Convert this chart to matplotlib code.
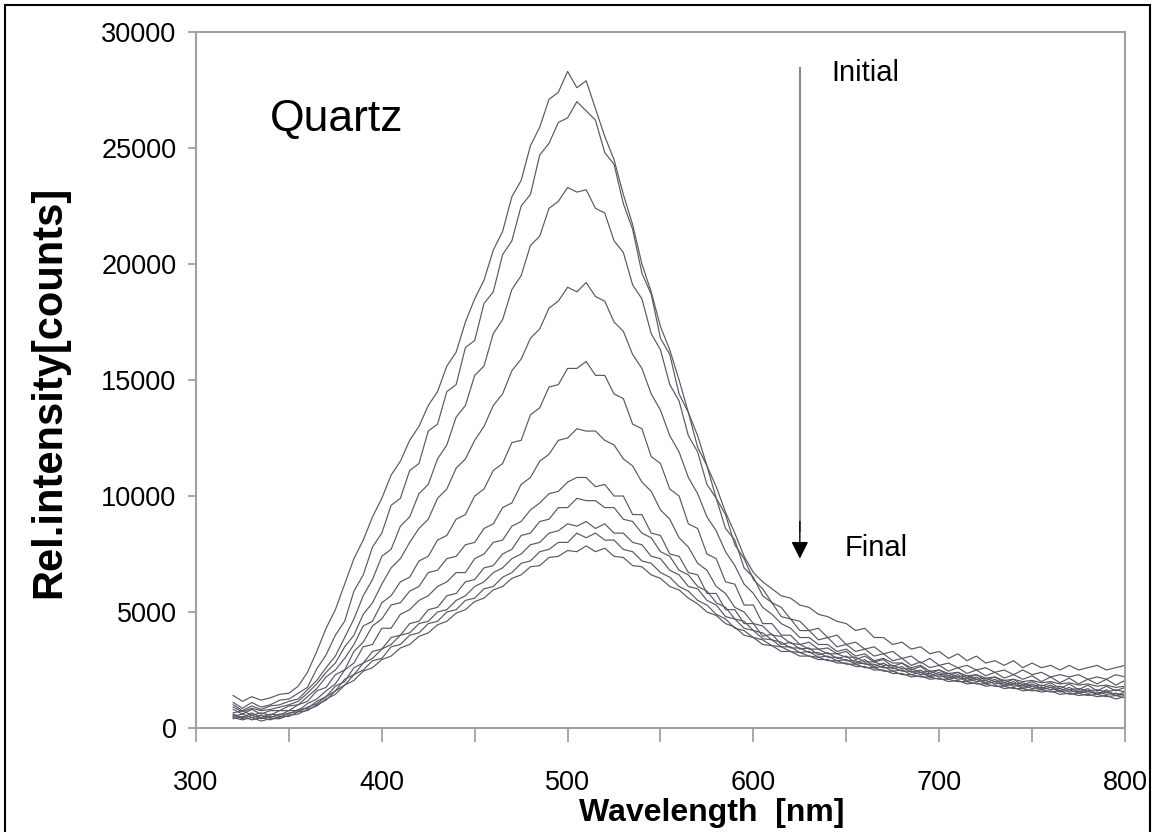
import numpy as np
import matplotlib
matplotlib.use("Agg")
import matplotlib.pyplot as plt
from matplotlib.patches import Rectangle
from matplotlib.ticker import MultipleLocator

plt.rcParams['font.family'] = ['Liberation Sans', 'DejaVu Sans']

# wavelength grid of the spectra [nm], 5 nm steps from 320 to 800
wavelength = np.arange(320, 801, 5)

# spectra, from the initial (top) to the final (bottom) one
# each row of ten values: 320-365, 370-415, 420-465, ... , 770-800 nm
spec_01 = [1400, 1150, 1350, 1200, 1300, 1450, 1500, 1800, 2400, 3300,
           4300, 5100, 6200, 7300, 8100, 9100, 9900, 10900, 11500, 12400,
           13000, 13900, 14500, 15600, 16200, 17500, 18500, 19300, 20600, 21400,
           22900, 23600, 25100, 25900, 27100, 27400, 28300, 27600, 27900, 26700,
           25500, 24500, 23000, 21700, 20000, 18800, 17300, 16300, 15000, 13600,
           12600, 11300, 10400, 9300, 8400, 7400, 6700, 6300, 6000, 5700,
           5600, 5300, 5200, 4900, 4800, 4600, 4500, 4200, 4300, 3900,
           3900, 3600, 3700, 3400, 3500, 3200, 3300, 3000, 3200, 2900,
           3100, 2800, 2900, 2700, 2900, 2600, 2800, 2600, 2700, 2500,
           2700, 2500, 2600, 2700, 2500, 2600, 2700]
spec_02 = [1100, 850, 1100, 900, 1000, 1200, 1250, 1500, 1750, 2550,
           3150, 4000, 4600, 5900, 6600, 7800, 8400, 9600, 9900, 11100,
           11400, 12800, 13100, 14500, 14800, 16400, 16700, 18300, 18800, 20400,
           21000, 22500, 23000, 24700, 25200, 26100, 26300, 27000, 26600, 26200,
           24800, 24300, 22600, 21500, 19600, 18700, 16800, 16100, 14400, 13600,
           12100, 11300, 9900, 9200, 7900, 7300, 6400, 6000, 5400, 5200,
           4700, 4600, 4200, 4300, 3900, 4000, 3600, 3700, 3400, 3500,
           3200, 3300, 3000, 3100, 2800, 3000, 2700, 2800, 2600, 2700,
           2500, 2600, 2400, 2500, 2300, 2500, 2300, 2400, 2200, 2300,
           2200, 2300, 2100, 2200, 2100, 2300, 2200]
spec_03 = [1000, 750, 950, 800, 950, 1000, 1150, 1250, 1650, 2050,
           2600, 3100, 3900, 4700, 5700, 6400, 7400, 7700, 8700, 9100,
           10100, 10500, 11600, 12200, 13400, 13900, 15200, 15600, 17000, 17600,
           18900, 19500, 20800, 21200, 22400, 22700, 23300, 23100, 23200, 22400,
           22200, 21000, 20500, 19100, 18500, 17000, 16300, 14800, 14100, 12600,
           11900, 10500, 9900, 8600, 8100, 6900, 6500, 5700, 5400, 4800,
           4700, 4200, 4200, 3800, 3900, 3500, 3600, 3300, 3400, 3100,
           3200, 2900, 3000, 2700, 2850, 2600, 2700, 2450, 2600, 2350,
           2500, 2250, 2400, 2150, 2300, 2100, 2250, 2000, 2200, 1950,
           2150, 1900, 2100, 1900, 2100, 1850, 2050]
spec_04 = [900, 700, 850, 750, 800, 900, 1000, 1150, 1500, 1900,
           2400, 2800, 3500, 4000, 4900, 5400, 6200, 6900, 7300, 8000,
           8600, 9000, 9900, 10300, 11200, 11600, 12400, 13000, 13900, 14400,
           15400, 15900, 16800, 17200, 18100, 18400, 19000, 18800, 19200, 18600,
           18400, 17500, 17100, 16100, 15500, 14400, 13700, 12600, 11900, 10800,
           10100, 9100, 8500, 7600, 7000, 6200, 5800, 5200, 4900, 4500,
           4300, 3900, 3900, 3600, 3600, 3300, 3400, 3100, 3200, 2900,
           3000, 2800, 2800, 2600, 2700, 2450, 2500, 2350, 2400, 2250,
           2300, 2150, 2200, 2050, 2100, 2000, 2050, 1950, 2000, 1900,
           1950, 1850, 1900, 1800, 1850, 1750, 1800]
spec_05 = [800, 600, 800, 600, 750, 750, 950, 1000, 1350, 1700,
           2200, 2500, 3000, 3600, 4400, 4600, 5400, 5700, 6300, 6500,
           7200, 7400, 8100, 8300, 9000, 9200, 10000, 10300, 11100, 11400,
           12300, 12400, 13500, 13800, 14700, 14800, 15500, 15500, 15800, 15200,
           15200, 14400, 14200, 13100, 12900, 11700, 11400, 10300, 10000, 8800,
           8600, 7500, 7300, 6300, 6200, 5300, 5300, 4500, 4500, 4000,
           4000, 3600, 3700, 3400, 3450, 3200, 3300, 2950, 3100, 2850,
           2950, 2650, 2800, 2500, 2650, 2350, 2500, 2250, 2400, 2150,
           2300, 2050, 2200, 1950, 2100, 1850, 2000, 1800, 1950, 1700,
           1900, 1650, 1850, 1600, 1800, 1600, 1750]
spec_06 = [650, 750, 550, 650, 550, 750, 750, 1000, 1150, 1600,
           1750, 2300, 2500, 3300, 3700, 4400, 4700, 5300, 5400, 5900,
           6100, 6700, 6800, 7300, 7400, 7900, 8000, 8600, 8800, 9500,
           9700, 10500, 10800, 11500, 11800, 12400, 12500, 12900, 12800, 12800,
           12400, 12200, 11600, 11300, 10600, 10200, 9400, 9000, 8200, 7800,
           7100, 6800, 6100, 5800, 5200, 5000, 4500, 4400, 4000, 3950,
           3650, 3600, 3400, 3400, 3200, 3200, 3050, 3050, 2850, 2850,
           2700, 2700, 2550, 2550, 2400, 2450, 2300, 2350, 2200, 2250,
           2100, 2150, 2000, 2050, 1900, 1950, 1800, 1850, 1750, 1800,
           1650, 1700, 1600, 1650, 1550, 1650, 1550]
spec_07 = [600, 450, 650, 450, 600, 550, 750, 750, 1050, 1250,
           1600, 1900, 2500, 2800, 3500, 3600, 4300, 4300, 4900, 5100,
           5500, 5700, 6100, 6300, 6700, 6700, 7300, 7500, 8000, 8100,
           8700, 8900, 9400, 9700, 10100, 10200, 10600, 10800, 10800, 10400,
           10500, 10000, 10000, 9200, 9200, 8400, 8300, 7500, 7400, 6700,
           6600, 5800, 5800, 5100, 5100, 4500, 4500, 3950, 4050, 3600,
           3700, 3400, 3450, 3150, 3250, 3000, 3100, 2800, 2950, 2650,
           2800, 2550, 2650, 2400, 2500, 2250, 2400, 2150, 2300, 2050,
           2200, 1950, 2100, 1850, 2000, 1750, 1900, 1700, 1850, 1600,
           1750, 1550, 1700, 1450, 1650, 1400, 1550]
spec_08 = [500, 600, 450, 550, 450, 600, 600, 800, 850, 1150,
           1350, 1800, 2000, 2600, 2800, 3300, 3400, 3900, 4000, 4500,
           4600, 5100, 5200, 5700, 5800, 6300, 6400, 6900, 7000, 7500,
           7700, 8300, 8400, 8900, 9000, 9500, 9500, 9900, 9800, 9800,
           9500, 9500, 9000, 8900, 8400, 8200, 7600, 7400, 6800, 6600,
           6100, 5900, 5400, 5200, 4700, 4600, 4200, 4100, 3800, 3700,
           3450, 3450, 3250, 3250, 3050, 3050, 2900, 2900, 2750, 2750,
           2600, 2600, 2450, 2450, 2300, 2350, 2200, 2250, 2100, 2150,
           2000, 2050, 1900, 1950, 1800, 1850, 1700, 1750, 1650, 1700,
           1550, 1600, 1500, 1550, 1450, 1500, 1400]
spec_09 = [550, 400, 550, 400, 500, 450, 650, 700, 900, 1050,
           1350, 1600, 2100, 2300, 2800, 3000, 3400, 3600, 4000, 4100,
           4500, 4600, 5000, 5100, 5500, 5700, 6100, 6300, 6700, 6900,
           7300, 7500, 7900, 8000, 8400, 8500, 8800, 8700, 8900, 8600,
           8800, 8400, 8400, 8000, 7900, 7400, 7300, 6800, 6600, 6100,
           6000, 5500, 5300, 4800, 4700, 4300, 4200, 3850, 3800, 3500,
           3500, 3250, 3300, 3050, 3100, 2900, 2950, 2750, 2800, 2600,
           2650, 2450, 2500, 2300, 2400, 2200, 2300, 2100, 2200, 2000,
           2100, 1900, 2000, 1800, 1900, 1700, 1800, 1650, 1750, 1550,
           1650, 1500, 1600, 1450, 1550, 1400, 1450]
spec_10 = [400, 500, 350, 450, 350, 500, 500, 700, 750, 1000,
           1200, 1600, 1850, 2300, 2500, 2900, 3000, 3500, 3600, 4000,
           4100, 4500, 4600, 5000, 5100, 5500, 5600, 6000, 6100, 6500,
           6700, 7100, 7200, 7600, 7700, 8000, 8000, 8400, 8200, 8400,
           8100, 8100, 7700, 7600, 7200, 7100, 6700, 6500, 6100, 5900,
           5500, 5300, 4900, 4700, 4300, 4200, 3900, 3800, 3550, 3500,
           3300, 3250, 3100, 3050, 2900, 2900, 2750, 2750, 2600, 2600,
           2450, 2450, 2300, 2300, 2200, 2200, 2100, 2100, 2000, 2000,
           1900, 1900, 1800, 1800, 1700, 1700, 1600, 1650, 1550, 1600,
           1450, 1500, 1400, 1450, 1350, 1400, 1300]
spec_11 = [450, 350, 450, 300, 400, 400, 550, 600, 800, 950,
           1250, 1450, 1850, 2050, 2450, 2600, 2950, 3100, 3450, 3600,
           3950, 4100, 4450, 4600, 4950, 5100, 5450, 5600, 5950, 6100,
           6450, 6600, 6950, 7000, 7350, 7400, 7650, 7600, 7850, 7600,
           7750, 7400, 7350, 7000, 6950, 6600, 6450, 6100, 5950, 5600,
           5350, 5000, 4850, 4500, 4350, 4000, 3900, 3600, 3550, 3300,
           3300, 3100, 3100, 2950, 2950, 2800, 2800, 2650, 2650, 2500,
           2500, 2350, 2350, 2200, 2250, 2100, 2150, 2000, 2050, 1900,
           1950, 1800, 1850, 1700, 1750, 1600, 1650, 1550, 1600, 1450,
           1500, 1400, 1450, 1350, 1400, 1250, 1350]

spectra = [spec_01, spec_02, spec_03, spec_04, spec_05, spec_06,
           spec_07, spec_08, spec_09, spec_10, spec_11]

x_ticks = [300, 400, 500, 600, 700, 800]
y_ticks = [0, 5000, 10000, 15000, 20000, 25000, 30000]

grey = '#a0a0a0'
line_col = '#5a5662'

fig = plt.figure(figsize=(11.53, 8.32), dpi=100)
ax = fig.add_axes([0.170, 0.125, 0.8057, 0.8365])

for s in spectra:
    ax.plot(wavelength, s, color=line_col, lw=0.85)

ax.set_xlim(300, 800)
ax.set_ylim(0, 30000)
ax.set_xticks(x_ticks)
ax.set_yticks(y_ticks)
ax.xaxis.set_minor_locator(MultipleLocator(50))
for sp in ax.spines.values():
    sp.set_color(grey)
    sp.set_linewidth(1.5)
ax.tick_params(axis='x', which='both', direction='out', length=10, width=1.3,
               color=grey, pad=20, labelsize=19.5)
ax.tick_params(axis='y', direction='out', length=6, width=1.3, color=grey,
               pad=8, labelsize=19.5)

ax.set_xlabel('Wavelength  [nm]', fontsize=23, fontweight='bold')
ax.xaxis.set_label_coords(0.555, -0.101)
ax.set_ylabel('Rel.intensity[counts]', fontsize=30, fontweight='bold')
ax.yaxis.set_label_coords(-0.136, 0.483)

ax.text(0.079, 0.874, 'Quartz', transform=ax.transAxes, fontsize=32,
        va='center', ha='left')

# arrow from the initial to the final spectrum: grey shaft, black head
ax.plot([625, 625], [28450, 8500], color='#8a8a8a', lw=1.5)
ax.annotate('', xy=(625, 7300), xytext=(625, 8900),
            arrowprops=dict(arrowstyle='-|>', color='black', lw=1,
                            mutation_scale=26, shrinkA=0, shrinkB=0))
ax.text(642, 28230, 'Initial', fontsize=21, va='center', ha='left')
ax.text(649, 7760, 'Final', fontsize=21, va='center', ha='left')

# outer frame of the figure
fig.patches.append(Rectangle((5 / 1153, -0.01), 1145 / 1153, 1 - 5 / 832 + 0.01,
                             transform=fig.transFigure, fill=False,
                             edgecolor='black', lw=1.5))

fig.savefig('out.png', dpi=100)
